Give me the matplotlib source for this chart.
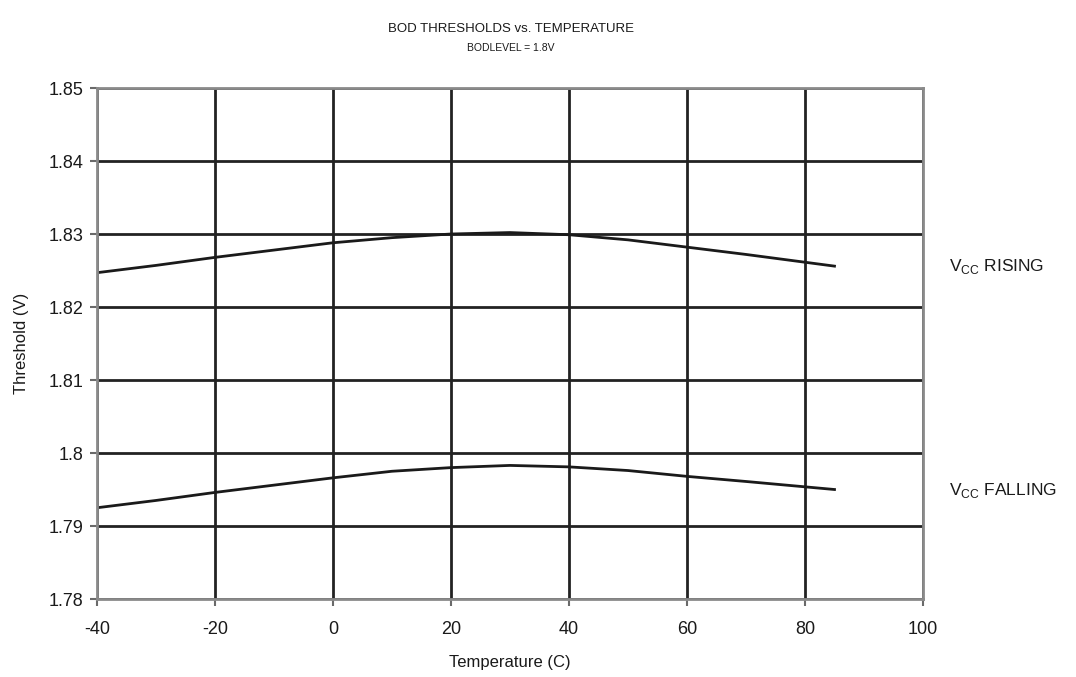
import matplotlib
matplotlib.use("Agg")
import matplotlib.pyplot as plt

plt.rcParams['font.family'] = ['Liberation Sans', 'DejaVu Sans']
plt.rcParams['axes.unicode_minus'] = False

# temperature (C) and BOD thresholds (V)
temp = [-40, -30, -20, -10, 0, 10, 20, 30, 40, 50, 60, 70, 85]
vcc_rising = [1.8247, 1.8257, 1.8268, 1.8278, 1.8288, 1.8295, 1.8300,
              1.8302, 1.8299, 1.8292, 1.8282, 1.8272, 1.8256]
vcc_falling = [1.7925, 1.7935, 1.7946, 1.7956, 1.7966, 1.7975, 1.7980,
               1.7983, 1.7981, 1.7976, 1.7968, 1.7961, 1.7950]

xticks = [-40, -20, 0, 20, 40, 60, 80, 100]
yticks = [1.78, 1.79, 1.80, 1.81, 1.82, 1.83, 1.84, 1.85]
ytick_labels = ['1.78', '1.79', '1.8', '1.81', '1.82', '1.83', '1.84', '1.85']

fig = plt.figure(figsize=(10.76, 6.77), dpi=100)
ax = fig.add_axes([0.0901, 0.1152, 0.7677, 0.7548])

ax.plot(temp, vcc_rising, color='#1a1a1a', lw=2)
ax.plot(temp, vcc_falling, color='#1a1a1a', lw=2)

ax.set_xlim(-40, 100)
ax.set_ylim(1.78, 1.85)
ax.set_xticks(xticks)
ax.set_yticks(yticks)
ax.set_yticklabels(ytick_labels)
ax.grid(True, color='#222222', lw=2)
ax.set_axisbelow(True)
for s in ax.spines.values():
    s.set_color('#8a8a8a')
    s.set_linewidth(2)
ax.tick_params(direction='out', length=5, width=1.5, color='#6a6a6a',
               labelsize=13, labelcolor='#1a1a1a')
ax.tick_params(axis='x', pad=11)
ax.tick_params(axis='y', pad=5)

ax.set_xlabel('Temperature (C)', fontsize=12, color='#1a1a1a', labelpad=12)
ax.set_ylabel('Threshold (V)', fontsize=12, color='#1a1a1a', labelpad=14)

fig.text(0.4745, 0.957, 'BOD THRESHOLDS vs. TEMPERATURE', ha='center', va='center',
         fontsize=9.5, color='#1a1a1a')
fig.text(0.4745, 0.929, 'BODLEVEL = 1.8V', ha='center', va='center',
         fontsize=7.5, color='#1a1a1a')

ax.annotate(r'V$_\mathregular{CC}$ RISING', xy=(1.0, 1.8255), xycoords=('axes fraction', 'data'),
            xytext=(19, 0), textcoords='offset points', va='center', fontsize=12.5, color='#1a1a1a')
ax.annotate(r'V$_\mathregular{CC}$ FALLING', xy=(1.0, 1.7949), xycoords=('axes fraction', 'data'),
            xytext=(19, 0), textcoords='offset points', va='center', fontsize=12.5, color='#1a1a1a')

fig.savefig('out.png', dpi=100)
